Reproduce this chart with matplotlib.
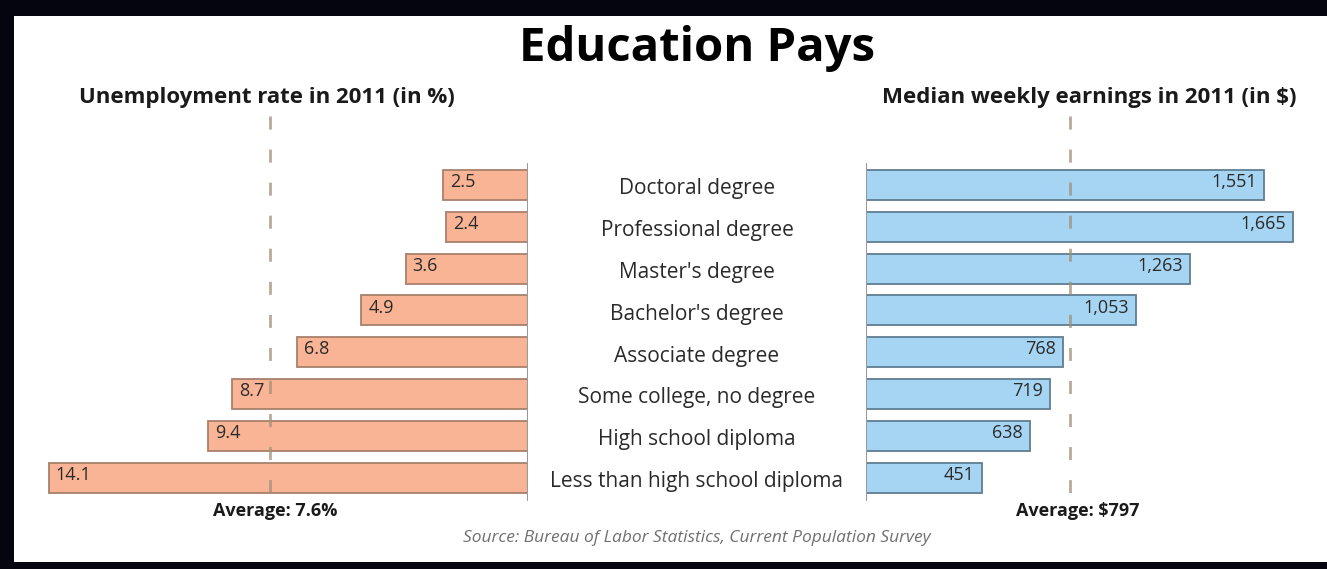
import numpy as np
import matplotlib
matplotlib.use("Agg")
import matplotlib.pyplot as plt
from matplotlib.patches import Rectangle

# ============================================================
# DATA
# ============================================================
categories = ["Doctoral degree", "Professional degree", "Master's degree",
              "Bachelor's degree", "Associate degree", "Some college, no degree",
              "High school diploma", "Less than high school diploma"]
unemployment = [2.5, 2.4, 3.6, 4.9, 6.8, 8.7, 9.4, 14.1]
earnings = [1551, 1665, 1263, 1053, 768, 719, 638, 451]
avg_unemployment = 7.6
avg_earnings = 797

plt.rcParams['font.family'] = ['Open Sans', 'DejaVu Sans']

W, H = 1327, 569
fig = plt.figure(figsize=(W / 100, H / 100), dpi=100, facecolor='#05050f')

# white panel inside the dark frame
fig.patches.append(Rectangle((14 / W, 1 - 562 / H), (W - 14) / W, (562 - 16) / H,
                             transform=fig.transFigure, facecolor='white',
                             edgecolor='none', zorder=-5))


def px_axes(x0, x1, y0, y1):
    ax = fig.add_axes([x0 / W, 1 - y1 / H, (x1 - x0) / W, (y1 - y0) / H])
    ax.set_zorder(2)
    return ax


# rows: centre of row 0 at y=185px, spacing 41.8px, axes from y=116 to 505
row_h = 41.8
top_px, bot_px = 116, 505
ylim = (7 + (bot_px - 477.6) / row_h, -(185 - top_px) / row_h)
y = np.arange(len(categories))

orange, orange_edge = '#f8b494', '#a8806c'
blue, blue_edge = '#a6d5f3', '#5f7d91'
dash_col = '#a08e78'
val_fs = 13

# ------------------------------------------------------------
# LEFT: unemployment
# ------------------------------------------------------------
axL = px_axes(30, 528, top_px, bot_px)
axL.barh(y, unemployment, height=0.72, color=orange, edgecolor=orange_edge,
         linewidth=1.3, zorder=2)
axL.set_xlim((528 - 30) / 34.0, 0)
axL.set_ylim(*ylim)
for yi, v in zip(y, unemployment):
    axL.annotate(f"{v}", xy=(v, yi), xytext=(5, 2), textcoords='offset points',
                 ha='left', va='center', fontsize=val_fs, color='#2a2a2a', zorder=6)
axL.vlines(0, -0.53, 7.55, color='#9a9a9a', linewidth=1.5, zorder=3)
axL.plot([avg_unemployment, avg_unemployment], [ylim[1], 7.42], color=dash_col,
         alpha=0.75, linewidth=2, linestyle=(0, (4.7, 7.2)), zorder=5)
axL.axis('off')

# ------------------------------------------------------------
# RIGHT: earnings
# ------------------------------------------------------------
axR = px_axes(866, W, top_px, bot_px)
axR.barh(y, earnings, height=0.72, color=blue, edgecolor=blue_edge,
         linewidth=1.3, zorder=2)
axR.set_xlim(0, (W - 866) / 0.2565)
axR.set_ylim(*ylim)
for yi, v in zip(y, earnings):
    axR.annotate(f"{v:,}", xy=(v, yi), xytext=(-5, 2), textcoords='offset points',
                 ha='right', va='center', fontsize=val_fs, color='#2a2a2a', zorder=6)
axR.vlines(0, -0.53, 7.55, color='#9a9a9a', linewidth=1.5, zorder=3)
axR.plot([avg_earnings, avg_earnings], [ylim[1], 7.42], color=dash_col,
         alpha=0.75, linewidth=2, linestyle=(0, (4.7, 7.2)), zorder=5)
axR.axis('off')

# ------------------------------------------------------------
# TEXT
# ------------------------------------------------------------
def ftext(x, yy, s, **kw):
    fig.text(x / W, 1 - yy / H, s, **kw)


ftext(697, 49, "Education Pays", ha='center', va='center', fontsize=34,
      fontweight='bold', color='black')
ftext(79, 97, "Unemployment rate in 2011 (in %)", ha='left', va='center',
      fontsize=16, fontweight='bold', color='#1a1a1a')
ftext(1296, 97, "Median weekly earnings in 2011 (in $)", ha='right', va='center',
      fontsize=16, fontweight='bold', color='#1a1a1a')
for yi, cat in zip(y, categories):
    ftext(697, 185 + yi * row_h + 4, cat, ha='center', va='center', fontsize=15,
          color='#2a2a2a')
ftext(275, 511, f"Average: {avg_unemployment}%", ha='center', va='center',
      fontsize=13, fontweight='bold', color='#1a1a1a')
ftext(1078, 511, f"Average: ${avg_earnings}", ha='center', va='center',
      fontsize=13, fontweight='bold', color='#1a1a1a')
ftext(697, 538, "Source: Bureau of Labor Statistics, Current Population Survey",
      ha='center', va='center', fontsize=12.5, fontstyle='italic', color='#707070')

fig.savefig("out.png", dpi=100, facecolor=fig.get_facecolor())
